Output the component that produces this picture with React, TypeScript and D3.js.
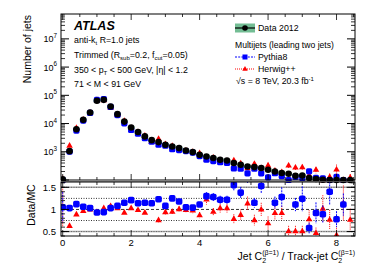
import React from 'react';
import * as d3 from 'd3';

const binCenters = [0, 0.2, 0.4, 0.6, 0.8, 1.0, 1.2, 1.4, 1.6, 1.8, 2.0, 2.2, 2.4, 2.6, 2.8, 3.0, 3.2, 3.4, 3.6, 3.8, 4.0, 4.2, 4.4, 4.6, 4.8, 5.0, 5.2, 5.4, 5.6, 5.8, 6.0, 6.2, 6.4, 6.6, 6.8, 7.0, 7.2, 7.4, 7.6, 7.8, 8.0, 8.2, 8.4];

const dataCounts = [105, 1050, 6300, 13500, 24500, 64000, 69000, 40000, 21500, 11700, 7200, 5000, 3500, 2580, 2200, 1770, 1540, 1350, 1110, 975, 780, 680, 600, 520, 490, 400, 347, 302, 287, 265, 230, 200, 176, 167, 142, 145, 118, 109, 102, 100, 100, 100, 95];

const pythiaCounts = [100, 1020, 5625, 12736, 23786, 68817, 73404, 38835, 19907, 10174, 5950, 4386, 3043, 2263, 1789, 1639, 1232, 1144, 1057, 938, 703, 523, 469, 426, 402, 258, 251, 173, 250, 173, 124, 174, 138, 93, 128, 117, 203, 118, 115, 71, 128, 90, null];

const herwigCounts = [100, 1667, 7079, 13918, 24500, 68085, 66990, 37037, 20874, 12581, 6990, 5051, 3763, 2263, 2895, 1883, 1621, 1337, 1121, 995, 897, 553, 632, 505, 476, 506, 394, 265, 378, 265, 333, 217, 191, 327, 278, 284, 151, 232, 100, 130, 238, 88, 123];

const pythiaRatio = [1.05, 1.03, 1.12, 1.06, 1.03, 0.93, 0.94, 1.03, 1.08, 1.15, 1.21, 1.14, 1.15, 1.14, 1.23, 1.08, 1.25, 1.18, 1.05, 1.04, 1.11, 1.30, 1.28, 1.22, 1.22, 1.55, 1.38, 1.75, 1.15, 1.53, 1.85, 1.15, 1.28, 1.80, 1.11, 1.24, 0.58, 0.92, 0.89, 1.40, 0.78, 1.11, null];

const herwigRatio = [1.05, 0.63, 0.89, 0.97, 1.0, 0.94, 1.03, 1.08, 1.03, 0.93, 1.03, 0.99, 0.93, 1.14, 0.76, 0.94, 0.95, 1.01, 0.99, 0.98, 0.87, 1.23, 0.95, 1.03, 1.03, 0.79, 0.88, 1.14, 0.76, 1.0, 0.69, 0.92, 0.92, 0.51, 0.51, 0.51, 0.78, 0.47, 1.02, 0.77, 0.42, 1.14, 0.77];

const pythiaRatioErr = [0.35, 0.03, 0.02, 0.02, 0.02, 0.02, 0.02, 0.02, 0.02, 0.02, 0.03, 0.03, 0.03, 0.03, 0.04, 0.04, 0.05, 0.05, 0.05, 0.05, 0.06, 0.09, 0.09, 0.09, 0.09, 0.13, 0.13, 0.15, 0.11, 0.16, 0.2, 0.14, 0.22, 0.2, 0.15, 0.28, 0.12, 0.24, 0.2, 0.3, 0.18, 0.25, 0];

const herwigRatioErr = [0.45, 0.05, 0.03, 0.02, 0.02, 0.02, 0.02, 0.03, 0.03, 0.03, 0.03, 0.04, 0.04, 0.05, 0.05, 0.06, 0.06, 0.06, 0.07, 0.07, 0.07, 0.12, 0.08, 0.1, 0.1, 0.1, 0.12, 0.15, 0.12, 0.15, 0.15, 0.15, 0.16, 0.12, 0.12, 0.12, 0.2, 0.12, 0.3, 0.22, 0.2, 0.4, 0.25];

const dataSystRel = 0.12;
const binWidth = 0.2;

const xMajorTicks = [0, 2, 4, 6, 8];
const xMinorTicks = d3.range(0, 8.51, 0.5);
const yMainMajor = [1e2, 1e3, 1e4, 1e5, 1e6, 1e7];
const yMainLabels = [3, 4, 5, 6, 7];
const ratioMajor = [0.5, 1, 1.5];
const ratioMinor = d3.range(0.4, 1.61, 0.1);

const FONT = '"Liberation Sans", Arial, Helvetica, sans-serif';

const L = 61, R = 355;
const MT = 14, MB = 180;
const RT = 182, RB = 236;

const x = d3.scaleLinear().domain([-0.05, 8.54]).range([L, R]);
const yM = d3.scaleLog().domain([100, 7.6e7]).range([MB, MT]).clamp(true);
const yR = d3.scaleLinear().domain([0.4, 1.62]).range([RB, RT]);

const tri = (cx: number, cy: number, s: number) => {
  const h = s * 0.866;
  return `M${cx},${cy - h * 0.62} L${cx + s / 2},${cy + h * 0.38} L${cx - s / 2},${cy + h * 0.38} Z`;
};

const logMinor: number[] = [];
for (let k = 2; k <= 7; k++) {
  for (let m = 2; m <= 9; m++) {
    const v = m * Math.pow(10, k);
    if (v < 7.6e7) logMinor.push(v);
  }
}

export default function App() {
  const inR = (v: number | null) => v !== null && v >= 0.4 && v <= 1.62;
  return (
    <svg width={374} height={268} style={{ position: 'absolute', left: 0, top: 0, background: '#fff' }} fontFamily={FONT}>
      <defs>
        <clipPath id="cm"><rect x={L} y={MT} width={R - L} height={MB - MT + 4} /></clipPath>
        <clipPath id="cr"><rect x={L} y={RT} width={R - L} height={RB - RT} /></clipPath>
      </defs>
      <rect x={0} y={0} width={374} height={268} fill="#fff" />

      {/* ===== Main panel ===== */}
      <g clipPath="url(#cm)">
        {binCenters.map((c, i) => (
          <rect key={'b' + i} x={x(c - binWidth / 2)} width={x(c + binWidth / 2) - x(c - binWidth / 2)}
            y={yM(dataCounts[i] * (1 + dataSystRel))}
            height={Math.max(0, yM(dataCounts[i] * (1 - dataSystRel)) - yM(dataCounts[i] * (1 + dataSystRel)))}
            fill="#73bd94" />
        ))}
        {binCenters.map((c, i) => {
          const v = herwigCounts[i];
          if (v === null) return null;
          const rel = herwigRatioErr[i] / herwigRatio[i];
          return (
            <g key={'h' + i}>
              <line x1={x(c)} x2={x(c)} y1={yM(v * (1 + rel))} y2={yM(v * Math.max(0.05, 1 - rel))} stroke="#f00" strokeWidth={1} strokeDasharray="1,1" />
              <path d={tri(x(c), yM(v), 6.5)} fill="#f00" />
            </g>
          );
        })}
        {binCenters.map((c, i) => {
          const v = pythiaCounts[i];
          if (v === null) return null;
          const rel = pythiaRatioErr[i] / (pythiaRatio[i] as number);
          return (
            <g key={'p' + i}>
              <line x1={x(c)} x2={x(c)} y1={yM(v * (1 + rel))} y2={yM(v * Math.max(0.05, 1 - rel))} stroke="#00f" strokeWidth={1} strokeDasharray="2,1" />
              <rect x={x(c) - 3.1} y={yM(v) - 3.1} width={6.2} height={6.2} rx={1.6} fill="#00f" />
            </g>
          );
        })}
        {binCenters.map((c, i) => (
          <circle key={'d' + i} cx={x(c)} cy={yM(dataCounts[i])} r={3.3} fill="#000" />
        ))}
      </g>

      <rect x={L} y={MT} width={R - L} height={MB - MT} fill="none" stroke="#000" strokeWidth={1} />
      <line x1={L} x2={R} y1={MB + 1.5} y2={MB + 1.5} stroke="#999" strokeWidth={1.2} />
      {yMainMajor.map((v, i) => (
        <g key={'ymj' + i}>
          <line x1={L} x2={L + 8} y1={yM(v)} y2={yM(v)} stroke="#000" />
          <line x1={R} x2={R - 8} y1={yM(v)} y2={yM(v)} stroke="#000" />
        </g>
      ))}
      {logMinor.map((v, i) => (
        <g key={'ymn' + i}>
          <line x1={L} x2={L + 4} y1={yM(v)} y2={yM(v)} stroke="#000" strokeWidth={0.8} />
          <line x1={R} x2={R - 4} y1={yM(v)} y2={yM(v)} stroke="#000" strokeWidth={0.8} />
        </g>
      ))}
      {xMinorTicks.map((v, i) => {
        const major = xMajorTicks.includes(v);
        const len = major ? 6 : 3;
        return (
          <g key={'xm' + i}>
            <line x1={x(v)} x2={x(v)} y1={MB} y2={MB - len} stroke="#000" strokeWidth={0.8} />
            <line x1={x(v)} x2={x(v)} y1={MT} y2={MT + len} stroke="#000" strokeWidth={0.8} />
          </g>
        );
      })}
      {yMainLabels.map((p) => (
        <text key={'yl' + p} x={57} y={yM(Math.pow(10, p)) + 3.5} textAnchor="end" fontSize={9}>
          10<tspan dy={-4.5} fontSize={6.3}>{p}</tspan>
        </text>
      ))}
      <text transform="translate(31,15) rotate(-90)" textAnchor="end" fontSize={10.5}>Number of jets</text>

      {/* ===== Ratio panel ===== */}
      <line x1={L} x2={R} y1={yR(1.5)} y2={yR(1.5)} stroke="#aaa" strokeWidth={1.6} />
      <line x1={L} x2={R} y1={yR(0.5)} y2={yR(0.5)} stroke="#aaa" strokeWidth={1.6} />
      <line x1={L} x2={R} y1={yR(1.5)} y2={yR(1.5)} stroke="#555" strokeWidth={0.8} strokeDasharray="1,1.5" />
      <line x1={L} x2={R} y1={yR(0.5)} y2={yR(0.5)} stroke="#555" strokeWidth={0.8} strokeDasharray="1,1.5" />
      <line x1={L} x2={R} y1={yR(1.25)} y2={yR(1.25)} stroke="#000" strokeWidth={0.8} strokeDasharray="1,1.5" />
      <line x1={L} x2={R} y1={yR(0.75)} y2={yR(0.75)} stroke="#000" strokeWidth={0.8} strokeDasharray="1,1.5" />
      <line x1={L} x2={R} y1={yR(1)} y2={yR(1)} stroke="#000" strokeWidth={0.8} strokeDasharray="3,2" />

      <g clipPath="url(#cr)">
        {binCenters.map((c, i) => {
          const v = herwigRatio[i];
          const e = herwigRatioErr[i];
          return (
            <g key={'rh' + i}>
              <line x1={x(c)} x2={x(c)} y1={yR(v + e)} y2={yR(v - e)} stroke="#f00" strokeWidth={1} strokeDasharray="1,1" />
              {inR(v) && <path d={tri(x(c), yR(v), 6.5)} fill="#f00" />}
            </g>
          );
        })}
        {binCenters.map((c, i) => {
          const v = pythiaRatio[i];
          if (v === null) return null;
          const e = pythiaRatioErr[i];
          return (
            <g key={'rp' + i}>
              <line x1={x(c)} x2={x(c)} y1={yR(v + e)} y2={yR(v - e)} stroke="#00f" strokeWidth={1} strokeDasharray="2,1" />
              {inR(v) && <rect x={x(c) - 3.3} y={yR(v) - 3.3} width={6.6} height={6.6} rx={1.8} fill="#00f" />}
            </g>
          );
        })}
      </g>

      <rect x={L} y={RT} width={R - L} height={RB - RT} fill="none" stroke="#000" strokeWidth={1} />
      {ratioMajor.map((v, i) => (
        <g key={'rmj' + i}>
          <line x1={L} x2={L + 8} y1={yR(v)} y2={yR(v)} stroke="#000" />
          <line x1={R} x2={R - 8} y1={yR(v)} y2={yR(v)} stroke="#000" />
          <text x={56} y={yR(v) + 3.3} textAnchor="end" fontSize={9.5}>{v.toString()}</text>
        </g>
      ))}
      {ratioMinor.map((v, i) => (
        <g key={'rmn' + i}>
          <line x1={L} x2={L + 4} y1={yR(v)} y2={yR(v)} stroke="#000" strokeWidth={0.8} />
          <line x1={R} x2={R - 4} y1={yR(v)} y2={yR(v)} stroke="#000" strokeWidth={0.8} />
        </g>
      ))}
      {xMinorTicks.map((v, i) => {
        const major = xMajorTicks.includes(v);
        const len = major ? 6 : 3;
        return (
          <g key={'xr' + i}>
            <line x1={x(v)} x2={x(v)} y1={RB} y2={RB - len} stroke="#000" strokeWidth={0.8} />
            <line x1={x(v)} x2={x(v)} y1={RT} y2={RT + len} stroke="#000" strokeWidth={0.8} />
          </g>
        );
      })}
      {xMajorTicks.map((v) => (
        <text key={'xl' + v} x={x(v)} y={245.5} textAnchor="middle" fontSize={9.5}>{v}</text>
      ))}
      <text transform="translate(35,205) rotate(-90)" textAnchor="middle" fontSize={10.5}>Data/MC</text>

      <text x={355} y={260} textAnchor="end" fontSize={10.5}>
        Jet C<tspan dy={2.5} fontSize={7}>2</tspan><tspan dy={-7.5} dx={-3.9} fontSize={7}>(β=1)</tspan>
        <tspan dy={5}> / Track-jet C</tspan><tspan dy={2.5} fontSize={7}>2</tspan><tspan dy={-7.5} dx={-3.9} fontSize={7}>(β=1)</tspan>
      </text>

      {/* ===== Labels ===== */}
      <text x={74} y={29.5} fontSize={12.5} fontWeight="bold" fontStyle="italic">ATLAS</text>
      <text x={74} y={43} fontSize={8.8}>anti-k<tspan dy={2} fontSize={6}>t</tspan><tspan dy={-2}> R=1.0 jets</tspan></text>
      <text x={74} y={57.5} fontSize={8.8}>Trimmed (R<tspan dy={2.5} fontSize={6}>sub</tspan><tspan dy={-2.5}>=0.2, f</tspan><tspan dy={2.5} fontSize={6}>cut</tspan><tspan dy={-2.5}>=0.05)</tspan></text>
      <text x={74} y={72.5} fontSize={8.8}>350 &lt; p<tspan dy={2.5} fontSize={6}>T</tspan><tspan dy={-2.5}> &lt; 500 GeV, |η| &lt; 1.2</tspan></text>
      <text x={74} y={87} fontSize={8.8}>71 &lt; M &lt; 91 GeV</text>

      <rect x={235} y={23.5} width={20} height={9} fill="#73bd94" />
      <line x1={235} x2={255} y1={28} y2={28} stroke="#000" strokeWidth={1.2} />
      <circle cx={245} cy={28} r={2.8} fill="#000" />
      <text x={258} y={31.2} fontSize={8.8}>Data 2012</text>
      <text x={235} y={48} fontSize={8.6}>Multijets (leading two jets)</text>
      <line x1={235} x2={255} y1={57} y2={57} stroke="#00f" strokeWidth={1} strokeDasharray="2,1.2" />
      <rect x={242.5} y={54.5} width={5} height={5} fill="#00f" />
      <text x={258} y={60.2} fontSize={8.8}>Pythia8</text>
      <line x1={235} x2={255} y1={69} y2={69} stroke="#f00" strokeWidth={1} strokeDasharray="1,1" />
      <path d={tri(245, 69, 5.5)} fill="#f00" />
      <text x={258} y={72.2} fontSize={8.8}>Herwig++</text>
      <text x={236} y={84} fontSize={8.8}>√s = 8 TeV, 20.3 fb<tspan dy={-3.5} fontSize={6}>-1</tspan></text>
    </svg>
  );
}
